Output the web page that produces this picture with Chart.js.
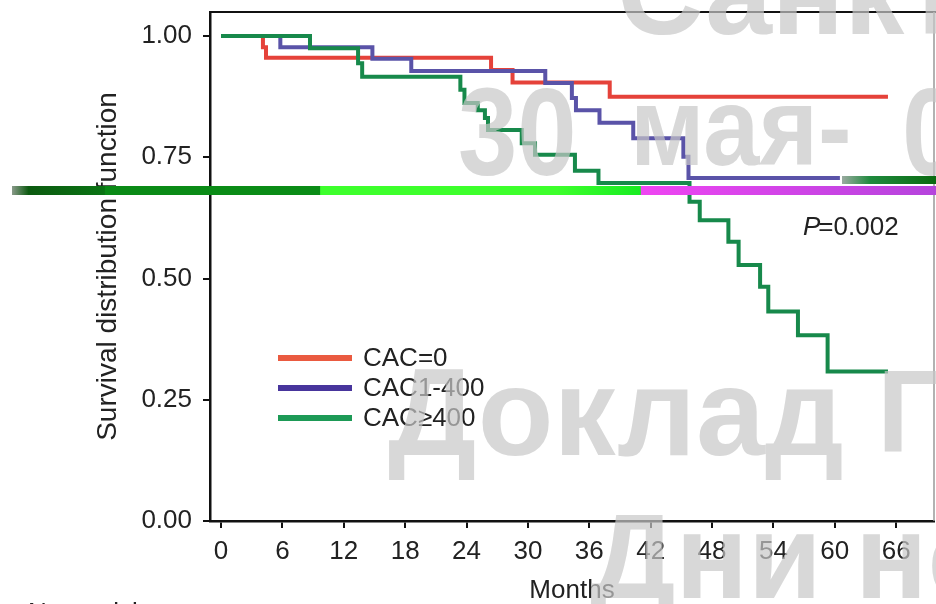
<!DOCTYPE html>
<html>
<head>
<meta charset="utf-8">
<script src="https://cdn.jsdelivr.net/npm/chart.js@4.4.1/dist/chart.umd.min.js"></script>
<style>
  html, body { margin: 0; padding: 0; background: #ffffff; }
  #wrap { width: 936px; height: 604px; }
</style>
</head>
<body>
<div id="wrap"><canvas id="c" width="936" height="604"></canvas></div>
<script>
// ---- data ----
const xTicks = [0, 6, 12, 18, 24, 30, 36, 42, 48, 54, 60, 66];
const yTicks = [0, 0.25, 0.5, 0.75, 1.0];
const seriesLabels = ['CAC=0', 'CAC1-400', 'CAC\u2265400'];

const cac0Months = [0, 4.1, 4.4, 26.4, 28.5, 38.0, 65.2];
const cac0Surv   = [1.0, 0.977, 0.955, 0.930, 0.904, 0.875, 0.875];

const cac1to400Months = [0, 5.8, 14.8, 18.6, 31.7, 34.3, 34.7, 37.0, 40.3, 45.2, 45.7, 60.5];
const cac1to400Surv   = [1.0, 0.977, 0.953, 0.928, 0.903, 0.872, 0.847, 0.821, 0.789, 0.751, 0.707, 0.707];

const cac400Months = [0, 8.7, 13.4, 13.8, 23.4, 23.8, 25.1, 25.8, 26.1, 29.4, 30.7, 34.6, 36.9, 45.8, 46.8, 49.6, 50.6, 52.7, 53.5, 56.4, 59.3, 65.2];
const cac400Surv   = [1.0, 0.975, 0.944, 0.916, 0.889, 0.862, 0.847, 0.831, 0.806, 0.779, 0.755, 0.722, 0.697, 0.658, 0.620, 0.576, 0.528, 0.483, 0.432, 0.383, 0.308, 0.308];

const pValueText = '=0.002';
const xTitle = 'Months';
const yTitle = 'Survival distribution function';
const riskTitle = 'No. at risk';
const watermarkTexts = [
  '\u0421\u0430\u043d\u043a\u0442-\u041f\u0435\u0442\u0435\u0440\u0431\u0443\u0440\u0433',
  '30', '\u043c\u0430\u044f-', '01',
  '\u0414\u043e\u043a\u043b\u0430\u0434', '\u0413',
  '\u0414\u043d\u0438 \u043d\u0435'
];

// ---- styles ----
const colors = ['#e5423a', '#5a53a8', '#17894b'];
const legendColors = ['#ea5a40', '#48359c', '#1d9a56'];
const FONT = '"Liberation Sans", Arial, Helvetica, sans-serif';

function pts(xs, ys) { return xs.map((x, i) => ({ x: x, y: ys[i] })); }

const datasets = [
  { label: seriesLabels[0], data: pts(cac0Months, cac0Surv), borderColor: colors[0], order: 2 },
  { label: seriesLabels[1], data: pts(cac1to400Months, cac1to400Surv), borderColor: colors[1], order: 1 },
  { label: seriesLabels[2], data: pts(cac400Months, cac400Surv), borderColor: colors[2], order: 0 }
].map(d => Object.assign(d, { stepped: 'before', borderWidth: 4, pointRadius: 0, fill: false, tension: 0 }));

function wm(ctx, text, x, y, size, sx) {
  ctx.save();
  ctx.font = 'bold ' + size + 'px ' + FONT;
  ctx.translate(x, y);
  ctx.scale(sx, 1);
  ctx.fillText(text, 0, 0);
  ctx.restore();
}

const decorPlugin = {
  id: 'decor',
  afterDatasetsDraw(chart) {
    const { ctx, chartArea: a } = chart;
    ctx.save();
    // frame top and right
    ctx.strokeStyle = '#111';
    ctx.lineWidth = 2;
    ctx.beginPath(); ctx.moveTo(a.left, a.top); ctx.lineTo(936, a.top); ctx.stroke();
    ctx.strokeStyle = '#999';
    ctx.lineWidth = 1.5;
    ctx.beginPath(); ctx.moveTo(a.right, a.top); ctx.lineTo(a.right, a.bottom); ctx.stroke();
    // legend
    const lx0 = 278, lx1 = 352, ly = [358, 388, 418];
    chart.data.datasets.forEach((d, i) => {
      ctx.strokeStyle = legendColors[i];
      ctx.lineWidth = 6;
      ctx.beginPath(); ctx.moveTo(lx0, ly[i]); ctx.lineTo(lx1, ly[i]); ctx.stroke();
      ctx.fillStyle = '#222';
      ctx.font = '26px ' + FONT;
      ctx.textBaseline = 'middle';
      ctx.textAlign = 'left';
      ctx.fillText(d.label, 363, ly[i] + 1);
    });
    // p value
    ctx.fillStyle = '#222';
    ctx.textBaseline = 'middle';
    ctx.font = 'italic 26px ' + FONT;
    ctx.fillText('P', 803, 228);
    const pw = ctx.measureText('P').width;
    ctx.font = '26px ' + FONT;
    ctx.fillText(pValueText, 803 + pw - 2, 228);
    // no. at risk
    ctx.font = '26px ' + FONT;
    ctx.textBaseline = 'alphabetic';
    ctx.fillText(riskTitle, 28, 621);
    ctx.restore();
  },
  afterDraw(chart) {
    const { ctx } = chart;
    ctx.save();
    // watermark (slide text over the figure)
    ctx.fillStyle = 'rgba(200,200,200,0.7)';
    ctx.textBaseline = 'alphabetic';
    ctx.textAlign = 'left';
    wm(ctx, watermarkTexts[0], 617, 34, 120, 1.0);
    wm(ctx, watermarkTexts[1], 458, 175, 124, 0.86);
    wm(ctx, watermarkTexts[2], 630, 165, 112, 0.9);
    wm(ctx, watermarkTexts[3], 902, 175, 124, 0.86);
    wm(ctx, watermarkTexts[4], 388, 455, 124, 1.0);
    wm(ctx, watermarkTexts[5], 877, 452, 116, 1.0);
    wm(ctx, watermarkTexts[6], 590, 598, 120, 1.0);
    // slide colour bars
    let g = ctx.createLinearGradient(12, 0, 936, 0);
    g.addColorStop(0.000, '#8a9a8a');
    g.addColorStop(0.018, '#0c5a10');
    g.addColorStop(0.100, '#0a7414');
    g.addColorStop(0.101, '#0a8a16');
    g.addColorStop(0.333, '#0a8c16');
    g.addColorStop(0.334, '#3dff2c');
    g.addColorStop(0.590, '#3dff2c');
    g.addColorStop(0.680, '#18ec22');
    g.addColorStop(0.681, '#ef45f2');
    g.addColorStop(0.800, '#d844ea');
    g.addColorStop(1.000, '#b544dc');
    ctx.fillStyle = g;
    ctx.fillRect(12, 186, 924, 9);
    let g2 = ctx.createLinearGradient(842, 0, 936, 0);
    g2.addColorStop(0, '#9aaaa0');
    g2.addColorStop(0.3, '#1f8a3e');
    g2.addColorStop(1, '#0a6a10');
    ctx.fillStyle = g2;
    ctx.fillRect(842, 176, 94, 8);
    ctx.restore();
  }
};

new Chart(document.getElementById('c'), {
  type: 'line',
  data: { datasets: datasets },
  options: {
    responsive: false,
    animation: false,
    devicePixelRatio: 1,
    layout: { padding: { top: 12, right: 2, left: 0, bottom: 0 } },
    plugins: { legend: { display: false }, tooltip: { enabled: false } },
    scales: {
      x: {
        type: 'linear',
        min: -1.075,
        max: 69.7,
        afterFit(s) { s.height = 83; s.paddingLeft = 0; s.paddingRight = 0; },
        afterBuildTicks(s) { s.ticks = xTicks.map(v => ({ value: v })); },
        grid: { drawOnChartArea: false, drawTicks: true, tickLength: 7, color: '#111', lineWidth: 2 },
        border: { display: true, color: '#111', width: 2.5 },
        ticks: { padding: 8, color: '#222', font: { family: FONT, size: 26 }, maxRotation: 0, autoSkip: false,
                 callback: v => String(v) },
        title: { display: true, text: xTitle, color: '#222', font: { family: FONT, size: 26, lineHeight: 1 }, padding: { top: 0, bottom: 0 } }
      },
      y: {
        type: 'linear',
        min: 0,
        max: 1.0495,
        afterFit(s) { s.width = 210; s.paddingTop = 0; s.paddingBottom = 0; },
        afterBuildTicks(s) { s.ticks = yTicks.map(v => ({ value: v })); },
        grid: { drawOnChartArea: false, drawTicks: true, tickLength: 7, color: '#111', lineWidth: 2 },
        border: { display: true, color: '#111', width: 2.5 },
        ticks: { padding: 11, color: '#222', font: { family: FONT, size: 26 }, autoSkip: false,
                 callback: v => Number(v).toFixed(2) },
        title: { display: true, text: yTitle, color: '#222', font: { family: FONT, size: 28, lineHeight: 1 }, padding: { top: 94, bottom: 0 } }
      }
    }
  },
  plugins: [decorPlugin]
});
</script>
</body>
</html>
